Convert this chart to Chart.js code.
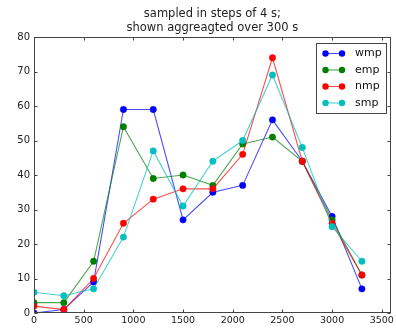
<!DOCTYPE html>
<html>
<head>
<meta charset="utf-8">
<title>sampled in steps of 4 s</title>
<script src="https://cdn.jsdelivr.net/npm/chart.js@4.4.0/dist/chart.umd.min.js"></script>
<style>
  html, body { margin: 0; padding: 0; background: #fff; }
  #wrap { width: 396px; height: 328px; }
</style>
</head>
<body>
<div id="wrap"><canvas id="chart"></canvas></div>
<script>
// ========== DATA ==========
const seconds = [0, 300, 600, 900, 1200, 1500, 1800, 2100, 2400, 2700, 3000, 3300];
const wmp = [0, 1, 9, 59, 59, 27, 35, 37, 56, 44, 28, 7];
const emp = [3, 3, 15, 54, 39, 40, 37, 49, 51, 44, 27, 11];
const nmp = [2, 1, 10, 26, 33, 36, 36, 46, 74, 44, 26, 11];
const smp = [6, 5, 7, 22, 47, 31, 44, 50, 69, 48, 25, 15];
const seriesNames = ['wmp', 'emp', 'nmp', 'smp'];
const seriesColors = ['#0000ff', '#008000', '#ff0000', '#00bfbf'];
const titleLines = ['sampled in steps of 4 s;', 'shown aggreagted over 300 s'];
const yTicks = [0, 10, 20, 30, 40, 50, 60, 70, 80];
const xTicks = [0, 500, 1000, 1500, 2000, 2500, 3000, 3500];

const FONT = 'DejaVu Sans';
Chart.defaults.font.family = FONT;
Chart.defaults.color = '#222';

function fade(hex, a) {
  const n = parseInt(hex.slice(1), 16);
  return `rgba(${n >> 16},${(n >> 8) & 255},${n & 255},${a})`;
}

// later series sit on top, like the original plot
const allSeries = [wmp, emp, nmp, smp];
const datasets = allSeries.map((vals, i) => ({
  label: seriesNames[i],
  data: vals.map((v, j) => ({ x: seconds[j], y: v })),
  order: allSeries.length - 1 - i,
  borderColor: fade(seriesColors[i], 0.7),
  borderWidth: 1.1,
  pointRadius: 3.2,
  pointBackgroundColor: seriesColors[i],
  pointBorderColor: seriesColors[i],
  pointBorderWidth: 0.5,
  tension: 0,
  clip: 0
}));

// ========== FRAME + INWARD TICKS ==========
const frameTicks = {
  id: 'frameTicks',
  afterDatasetsDraw(chart) {
    const { ctx, chartArea: a, scales: { x, y } } = chart;
    const L = Math.round(a.left) + 0.5, R = Math.round(a.right) - 0.5;
    const T = Math.round(a.top) + 0.5, B = Math.round(a.bottom) - 0.5;
    ctx.save();
    ctx.strokeStyle = '#444';
    ctx.lineWidth = 1;
    ctx.beginPath();
    xTicks.forEach(v => {
      const px = Math.round(x.getPixelForValue(v)) + 0.5;
      ctx.moveTo(px, B); ctx.lineTo(px, B - 3);
      ctx.moveTo(px, T); ctx.lineTo(px, T + 3);
    });
    yTicks.forEach(v => {
      const py = Math.round(y.getPixelForValue(v)) + 0.5;
      ctx.moveTo(L, py); ctx.lineTo(L + 3, py);
      ctx.moveTo(R, py); ctx.lineTo(R - 3, py);
    });
    ctx.stroke();
    ctx.strokeRect(L, T, R - L, B - T);
    ctx.restore();
  }
};

// ========== LEGEND (inside axes, upper right) ==========
const boxLegend = {
  id: 'boxLegend',
  afterDraw(chart) {
    const { ctx, chartArea: a } = chart;
    const w = 70, h = 70;
    const bx = Math.round(a.right - 5 - w) + 0.5, by = Math.round(a.top + 6) + 0.5;
    ctx.save();
    ctx.fillStyle = '#fff';
    ctx.strokeStyle = '#444';
    ctx.lineWidth = 1;
    ctx.fillRect(bx, by, w, h);
    ctx.strokeRect(bx, by, w, h);
    ctx.font = `11px "${FONT}"`;
    ctx.textBaseline = 'middle';
    chart.data.datasets.forEach((ds, i) => {
      const cy = by + 10 + i * 16.5;
      const x1 = bx + 9, x2 = bx + 25.5;
      ctx.strokeStyle = ds.borderColor;
      ctx.lineWidth = 1.1;
      ctx.beginPath(); ctx.moveTo(x1, cy); ctx.lineTo(x2, cy); ctx.stroke();
      ctx.fillStyle = ds.pointBackgroundColor;
      [x1, x2].forEach(px => { ctx.beginPath(); ctx.arc(px, cy, 3.2, 0, Math.PI * 2); ctx.fill(); });
      ctx.fillStyle = '#111';
      ctx.fillText(ds.label, bx + 38.5, cy);
    });
    ctx.restore();
  }
};

new Chart(document.getElementById('chart'), {
  type: 'line',
  data: { datasets },
  options: {
    responsive: true,
    maintainAspectRatio: false,
    animation: false,
    layout: { padding: { left: 0, right: 3, top: 0, bottom: 0 } },
    plugins: {
      legend: { display: false },
      tooltip: { enabled: false },
      title: {
        display: true,
        text: titleLines,
        fullSize: false,
        color: '#222',
        font: { family: FONT, size: 11.5, weight: 'normal', lineHeight: 1.22 },
        padding: { top: 7, bottom: 2 }
      }
    },
    scales: {
      x: {
        type: 'linear',
        min: 0, max: 3590,
        grid: { display: false, drawTicks: false },
        border: { display: false },
        afterBuildTicks: s => { s.ticks = xTicks.map(v => ({ value: v })); },
        afterFit: s => { s.height = 15; },
        ticks: { padding: 2, maxRotation: 0, autoSkip: false, font: { size: 9.5 }, color: '#222', callback: v => String(v) }
      },
      y: {
        type: 'linear',
        min: 0, max: 80,
        grid: { display: false, drawTicks: false },
        border: { display: false },
        afterBuildTicks: s => { s.ticks = yTicks.map(v => ({ value: v })); },
        afterFit: s => { s.width = 34; },
        ticks: { padding: 4, font: { size: 10 }, color: '#222', callback: v => String(v) }
      }
    }
  },
  plugins: [frameTicks, boxLegend]
});
</script>
</body>
</html>
